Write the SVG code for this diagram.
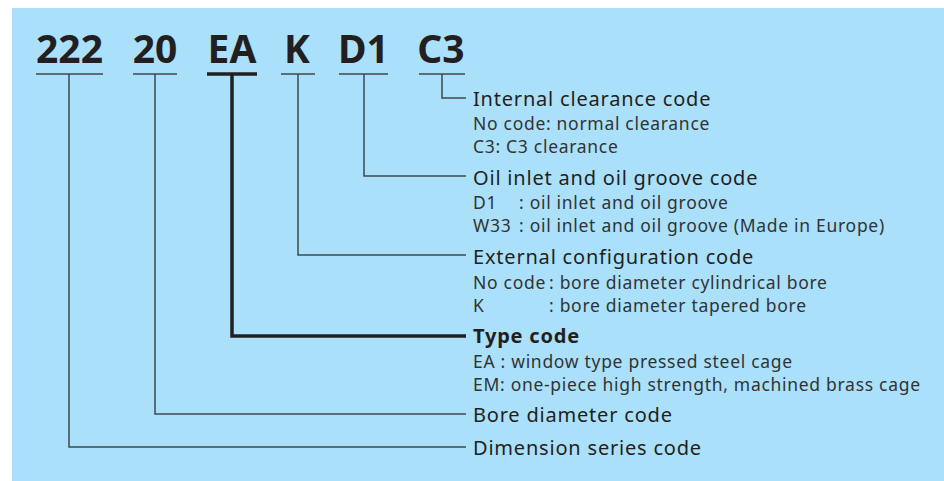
<svg xmlns="http://www.w3.org/2000/svg" width="944" height="481" viewBox="0 0 944 481">
<style>
.code{font-family:"Noto Sans","Open Sans",sans-serif;font-weight:bold;font-size:39px;fill:#231f20;text-anchor:middle}
.h{font-family:"Noto Sans","Open Sans",sans-serif;font-size:20px;letter-spacing:0.8px;fill:#231f20}
.d{font-family:"Noto Sans","Open Sans",sans-serif;font-size:17.5px;letter-spacing:0.7px;fill:#333}
.ln{fill:none;stroke:#3d4a52;stroke-width:1.5}
.thick{fill:none;stroke:#231f20;stroke-width:3.5}
</style>
<rect x="12" y="8" width="932" height="473" fill="#aae0fa"/>
<g id="codes">
<g id="c222"><text class="code" x="69.5" y="63">222</text></g>
<g id="c20"><text class="code" x="155" y="63">20</text></g>
<g id="cEA"><text class="code" x="232" y="63">EA</text></g>
<g id="cK"><text class="code" x="297" y="63">K</text></g>
<g id="cD1"><text class="code" x="363.5" y="63">D1</text></g>
<g id="cC3"><text class="code" x="441" y="63">C3</text></g>
</g>
<g id="connectors">
<path class="ln" d="M36 74H103M69 74V447H466"/>
<path class="ln" d="M133 74H177M155 74V414H466"/>
<path class="thick" d="M207 74H257M232 74V336H466"/>
<path class="ln" d="M281 74H315M298 74V255H466"/>
<path class="ln" d="M339 74H388M364 74V176H466"/>
<path class="ln" d="M419 74H465M442 74V98H466"/>
</g>
<g id="internal">
<text class="h" x="473" y="106">Internal clearance code</text>
<text class="d" x="473" y="130">No code: normal clearance</text>
<text class="d" x="473" y="153">C3: C3 clearance</text>
</g>
<g id="oil">
<text class="h" x="473" y="185">Oil inlet and oil groove code</text>
<text class="d" x="473" y="209">D1</text><text class="d" x="519" y="209">: oil inlet and oil groove</text>
<text class="d" x="473" y="232">W33</text><text class="d" x="519" y="232">: oil inlet and oil groove (Made in Europe)</text>
</g>
<g id="external">
<text class="h" x="473" y="264">External configuration code</text>
<text class="d" x="473" y="289">No code</text><text class="d" x="549" y="289">: bore diameter cylindrical bore</text>
<text class="d" x="473" y="312">K</text><text class="d" x="549" y="312">: bore diameter tapered bore</text>
</g>
<g id="type">
<text class="h" x="473" y="343" font-weight="bold">Type code</text>
<text class="d" x="473" y="368">EA : window type pressed steel cage</text>
<text class="d" x="473" y="391">EM: one-piece high strength, machined brass cage</text>
</g>
<g id="bore"><text class="h" x="473" y="422">Bore diameter code</text></g>
<g id="dimension"><text class="h" x="473" y="455">Dimension series code</text></g>
</svg>
